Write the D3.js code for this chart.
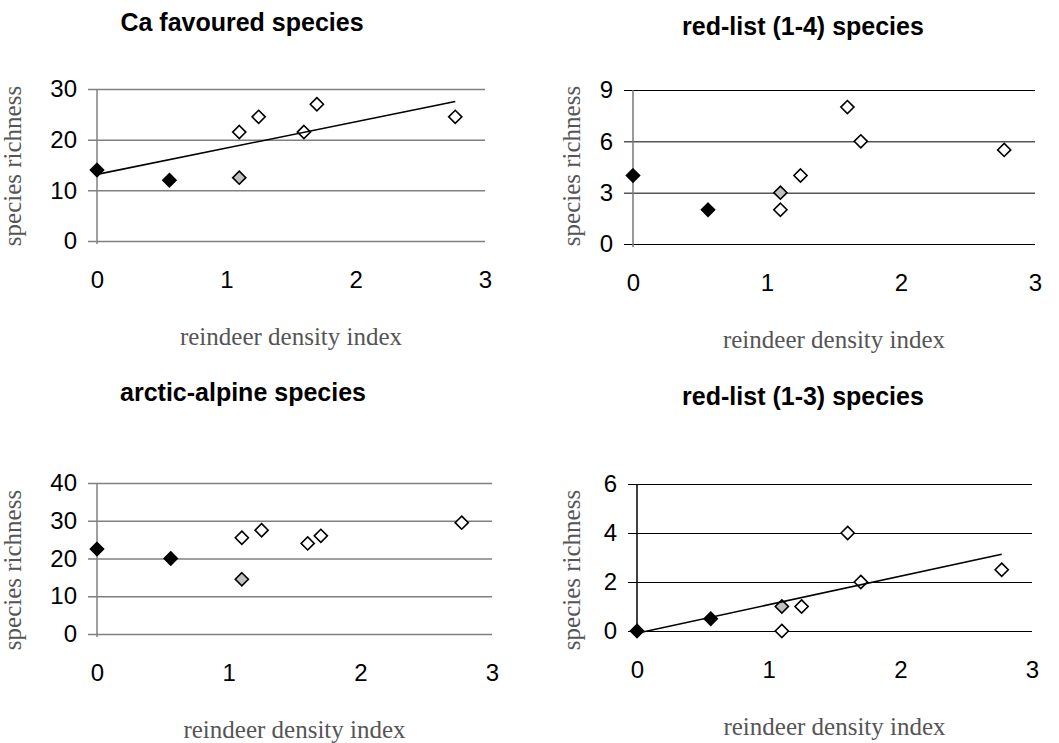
<!DOCTYPE html>
<html>
<head>
<meta charset="utf-8">
<script src="https://d3js.org/d3.v7.min.js"></script>
<style>
  body { margin: 0; background: #fff; }
  svg { display: block; }
</style>
</head>
<body>
<div id="chart"></div>
<script>
// reindeer density index of the sites (same for all four panels)
const density = [0, 0.56, 1.1, 1.1, 1.25, 1.6, 1.7, 2.77];
// marker fill per site
const siteType = ['black', 'black', 'grey', 'white', 'white', 'white', 'white', 'white'];

const caFavoured = [14, 12, 12.5, 21.5, 24.5, 21.5, 27, 24.5];
const redList14 = [4, 2, 3, 2, 4, 8, 6, 5.5];
const arcticAlpine = [22.5, 20, 14.5, 25.5, 27.5, 24, 26, 29.5];
const redList13 = [0, 0.5, 1, 0, 1, 4, 2, 2.5];

const xTicks = [0, 1, 2, 3];
const yTicks1 = [0, 10, 20, 30];
const yTicks2 = [0, 3, 6, 9];
const yTicks3 = [0, 10, 20, 30, 40];
const yTicks4 = [0, 2, 4, 6];

const panels = [
  {title: 'Ca favoured species', values: caFavoured, ticks: yTicks1, trend: true,
   x0: 97, x1: 485, y0: 241, y1: 89, grid: '#808080', gw: 1.5, axis: '#808080',
   tx: 242, ty: 31, lx: 21, ly: 166},
  {title: 'red-list (1-4) species', values: redList14, ticks: yTicks2, trend: false,
   x0: 633, x1: 1035, y0: 244, y1: 90, grid: '#000', gw: 1, axis: '#777',
   tx: 803, ty: 35, lx: 580, ly: 166},
  {title: 'arctic-alpine species', values: arcticAlpine, ticks: yTicks3, trend: false,
   x0: 97, x1: 492, y0: 634, y1: 483, grid: '#808080', gw: 1.5, axis: '#808080',
   tx: 243, ty: 401, lx: 21, ly: 570},
  {title: 'red-list (1-3) species', values: redList13, ticks: yTicks4, trend: true,
   x0: 637, x1: 1032, y0: 631, y1: 484, grid: '#000', gw: 1, axis: '#000',
   tx: 803, ty: 405, lx: 580, ly: 570}
];

const svg = d3.select('#chart').append('svg')
  .attr('width', 1059)
  .attr('height', 743);

const fills = {black: '#000', grey: '#c0c0c0', white: '#fff'};
const diamond = d3.symbol().type(d3.symbolDiamond2).size(110);
const sans = 'Liberation Sans, Arial, sans-serif';
const serif = 'Liberation Serif, Times New Roman, serif';

panels.forEach(p => {
  const yMax = p.ticks[p.ticks.length - 1];
  const x = d3.scaleLinear().domain([0, 3]).range([p.x0, p.x1]);
  const y = d3.scaleLinear().domain([0, yMax]).range([p.y0, p.y1]);
  const g = svg.append('g');

  // gridlines with tick stubs
  const yAxis = d3.axisLeft(y).tickValues(p.ticks).tickFormat(d3.format('d'))
    .tickSize(-(p.x1 - p.x0)).tickPadding(20).tickSizeOuter(0);
  const ga = g.append('g').attr('transform', `translate(${p.x0},0)`).call(yAxis);
  ga.select('.domain').remove();
  ga.selectAll('.tick line')
    .attr('x1', -9)
    .attr('stroke', p.grid)
    .attr('stroke-width', p.gw);
  ga.selectAll('.tick text')
    .attr('font-family', sans)
    .attr('font-size', 24)
    .attr('fill', '#000');

  // vertical axis line
  g.append('line')
    .attr('x1', p.x0).attr('x2', p.x0)
    .attr('y1', y(yMax)).attr('y2', p.y0 + 3)
    .attr('stroke', p.axis).attr('stroke-width', 1.5);

  // x tick labels
  const xAxis = d3.axisBottom(x).tickValues(xTicks).tickFormat(d3.format('d'))
    .tickSize(0).tickPadding(30);
  const gx = g.append('g').attr('transform', `translate(0,${p.y0})`).call(xAxis);
  gx.select('.domain').remove();
  gx.selectAll('.tick text')
    .attr('font-family', sans)
    .attr('font-size', 24)
    .attr('fill', '#000');

  // markers
  g.selectAll('path.pt')
    .data(p.values.map((v, i) => ({x: density[i], y: v, t: siteType[i]})))
    .join('path')
    .attr('class', 'pt')
    .attr('d', diamond)
    .attr('transform', d => `translate(${x(d.x)},${y(d.y)})`)
    .attr('fill', d => fills[d.t])
    .attr('stroke', '#000')
    .attr('stroke-width', 1.6);

  // linear trend line (least squares on all sites)
  if (p.trend) {
    const mx = d3.mean(density), my = d3.mean(p.values);
    const sxy = d3.sum(density, (d, i) => (d - mx) * (p.values[i] - my));
    const sxx = d3.sum(density, d => (d - mx) * (d - mx));
    const b = sxy / sxx, a = my - b * mx;
    const ext = d3.extent(density);
    g.append('line')
      .attr('x1', x(ext[0])).attr('y1', y(a + b * ext[0]))
      .attr('x2', x(ext[1])).attr('y2', y(a + b * ext[1]))
      .attr('stroke', '#000').attr('stroke-width', 1.6);
  }

  // titles and axis labels
  g.append('text')
    .attr('x', p.tx).attr('y', p.ty)
    .attr('text-anchor', 'middle')
    .attr('font-family', sans)
    .attr('font-weight', 'bold')
    .attr('font-size', 25)
    .text(p.title);

  g.append('text')
    .attr('transform', `translate(${p.lx},${p.ly}) rotate(-90)`)
    .attr('text-anchor', 'middle')
    .attr('font-family', serif)
    .attr('font-size', 25)
    .attr('fill', '#555')
    .text('species richness');

  g.append('text')
    .attr('x', (p.x0 + p.x1) / 2)
    .attr('y', p.y0 + 104)
    .attr('text-anchor', 'middle')
    .attr('font-family', serif)
    .attr('font-size', 25)
    .attr('fill', '#555')
    .text('reindeer density index');
});
</script>
</body>
</html>
